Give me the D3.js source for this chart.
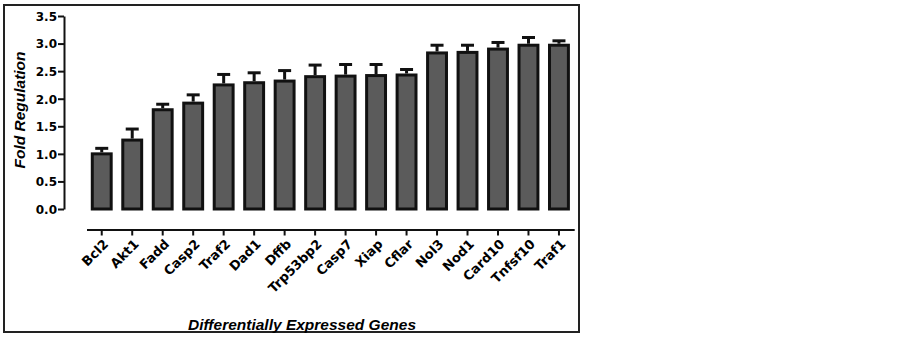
<!DOCTYPE html>
<html lang="en">
  <head>
    <meta charset="UTF-8" />
    <title>Fold Regulation</title>
    <style>
      body {
        margin: 0;
        background: #fff;
        font-family: Arial, 'Liberation Sans', Helvetica, sans-serif;
      }
      .bar {
        fill: #5b5b5b;
        stroke: #111;
        stroke-width: 3;
      }
      .err {
        stroke: #111;
        stroke-width: 3;
        fill: none;
      }
      .axis path,
      .axis line {
        stroke: #111;
        stroke-width: 2;
      }
      .axis text {
        font-family: 'DejaVu Sans', sans-serif;
        font-weight: bold;
        fill: #000;
      }
      .title {
        font-family: 'Liberation Sans', Arial, sans-serif;
        font-size: 15.5px;
        font-weight: bold;
        font-style: italic;
        fill: #000;
      }
    </style>
  </head>
  <body>
    <script src="https://d3js.org/d3.v7.min.js"></script>
    <script>
      const genes = ['Bcl2', 'Akt1', 'Fadd', 'Casp2', 'Traf2', 'Dad1', 'Dffb', 'Trp53bp2',
        'Casp7', 'Xiap', 'Cflar', 'Nol3', 'Nod1', 'Card10', 'Tnfsf10', 'Traf1'];
      const foldValues = [1.0, 1.25, 1.8, 1.92, 2.25, 2.29, 2.32, 2.4,
        2.41, 2.42, 2.43, 2.83, 2.84, 2.9, 2.97, 2.97];
      const errValues = [0.1, 0.2, 0.1, 0.15, 0.19, 0.18, 0.19, 0.21,
        0.21, 0.2, 0.1, 0.14, 0.13, 0.12, 0.14, 0.08];
      const yTicks = [0, 0.5, 1.0, 1.5, 2.0, 2.5, 3.0, 3.5];

      function makeChart() {
        const width = 903;
        const height = 341;

        const data = genes.map((g, i) => ({ gene: g, value: foldValues[i], err: errValues[i] }));

        const svg = d3.select('body').append('svg').attr('width', width).attr('height', height);

        // outer frame
        svg.append('rect')
          .attr('x', 4).attr('y', 5).attr('width', 575).attr('height', 327)
          .attr('fill', 'none').attr('stroke', '#222').attr('stroke-width', 2);

        const xScale = d3.scaleBand()
          .domain(genes)
          .range([86.5, 574.2])
          .paddingInner(0.38)
          .paddingOuter(0.19);

        const yScale = d3.scaleLinear().domain([0, 3.5]).range([209, 16]);

        // bars
        svg.selectAll('.bar')
          .data(data)
          .join('rect')
          .attr('class', 'bar')
          .attr('x', (d) => xScale(d.gene))
          .attr('y', (d) => yScale(d.value))
          .attr('width', xScale.bandwidth())
          .attr('height', (d) => yScale(0) - yScale(d.value));

        // error bars (upper only)
        const cx = (d) => xScale(d.gene) + xScale.bandwidth() / 2;
        svg.selectAll('.err-v')
          .data(data)
          .join('line')
          .attr('class', 'err')
          .attr('x1', cx).attr('x2', cx)
          .attr('y1', (d) => yScale(d.value) - 1.5)
          .attr('y2', (d) => yScale(d.value + d.err));
        svg.selectAll('.err-cap')
          .data(data)
          .join('line')
          .attr('class', 'err')
          .attr('x1', (d) => cx(d) - 6.5).attr('x2', (d) => cx(d) + 6.5)
          .attr('y1', (d) => yScale(d.value + d.err))
          .attr('y2', (d) => yScale(d.value + d.err));

        // y axis
        const yAxis = svg.append('g')
          .attr('class', 'axis')
          .attr('transform', 'translate(64,0)')
          .call(d3.axisLeft(yScale).tickValues(yTicks).tickFormat(d3.format('.1f')).tickSize(6).tickSizeOuter(0));
        yAxis.selectAll('text').attr('font-size', 12).attr('x', -7).attr('dy', '0.36em');

        // x axis
        const xAxis = svg.append('g')
          .attr('class', 'axis')
          .attr('transform', 'translate(0,229.5)')
          .call(d3.axisBottom(xScale).tickSize(6).tickSizeOuter(0));
        xAxis.selectAll('text')
          .attr('font-size', 13)
          .attr('text-anchor', 'end')
          .attr('transform', 'translate(1,9) rotate(-45)')
          .attr('x', 0).attr('y', 0).attr('dy', '0.7em');

        // axis titles
        svg.append('text')
          .attr('class', 'title')
          .attr('transform', 'translate(25,110) rotate(-90)')
          .attr('text-anchor', 'middle')
          .text('Fold Regulation');

        svg.append('text')
          .attr('class', 'title')
          .attr('x', 302).attr('y', 330)
          .attr('text-anchor', 'middle')
          .text('Differentially Expressed Genes');
      }
      makeChart();
    </script>
  </body>
</html>
